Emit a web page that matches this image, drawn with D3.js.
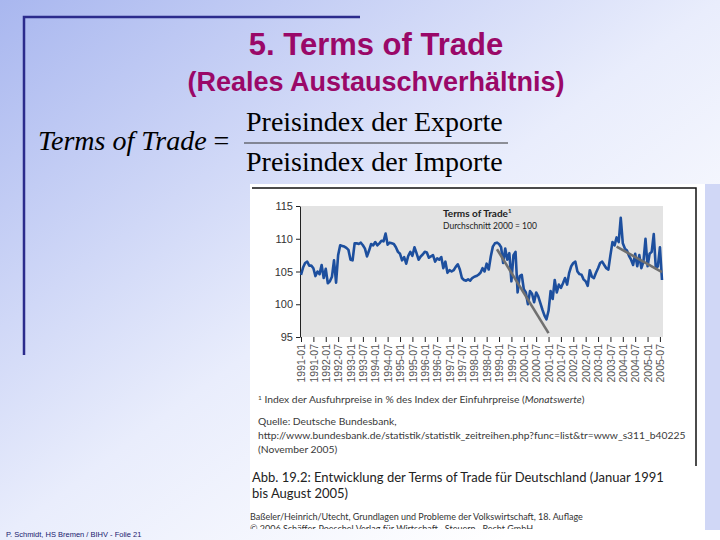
<!DOCTYPE html>
<html>
<head>
<meta charset="utf-8">
<script src="https://cdn.jsdelivr.net/npm/d3@7"></script>
<style>
  body { margin: 0; }
  svg { display: block; }
</style>
</head>
<body>
<div id="display"></div>
<script>
// monthly terms of trade, index 2000 = 100
const tot1991 = [104.5, 105.6, 106.3, 106.5, 105.9, 105.9, 105.5, 104.3, 105.0, 104.6, 106.0, 104.0]
const tot1992 = [105.4, 103.2, 103.5, 104.2, 106.7, 103.3, 107.5, 109.0, 108.9, 108.8, 108.6, 108.3]
const tot1993 = [106.8, 106.7, 109.3, 109.3, 109.2, 109.4, 109.0, 108.5, 107.3, 108.2, 109.2, 109.0]
const tot1994 = [109.5, 109.0, 109.3, 109.7, 109.6, 110.8, 109.1, 109.4, 109.3, 109.2, 108.7, 108.0]
const tot1995 = [107.7, 106.7, 107.2, 106.2, 107.4, 108.0, 107.4, 108.7, 107.8, 106.8, 107.3, 107.6]
const tot1996 = [108.0, 107.9, 107.1, 107.3, 107.5, 106.5, 107.0, 106.8, 107.2, 105.5, 106.5, 104.8]
const tot1997 = [105.2, 105.0, 105.2, 105.7, 106.1, 105.3, 104.0, 103.7, 103.6, 103.8, 103.6, 104.0]
const tot1998 = [104.2, 104.3, 104.5, 104.8, 105.5, 105.0, 106.2, 105.3, 107.3, 108.8, 109.3, 109.4]
const tot1999 = [109.2, 108.7, 106.3, 108.5, 106.8, 107.8, 103.5, 107.5, 108.0, 101.8, 104.3, 104.5]
const tot2000 = [102.3, 101.8, 100.0, 102.0, 101.6, 100.3, 101.8, 101.2, 100.2, 99.2, 98.3, 97.7]
const tot2001 = [99.0, 102.0, 100.8, 103.7, 101.8, 103.0, 102.5, 103.2, 104.0, 103.0, 104.8, 105.8]
const tot2002 = [106.3, 106.5, 105.0, 104.6, 104.5, 103.8, 103.5, 102.8, 105.2, 104.2, 104.0, 104.8]
const tot2003 = [105.5, 106.3, 106.5, 106.0, 105.5, 105.3, 107.5, 109.5, 109.0, 110.2, 109.5, 113.2]
const tot2004 = [109.3, 108.5, 108.2, 107.4, 106.8, 106.0, 107.7, 105.8, 107.5, 105.5, 106.5, 110.0]
const tot2005 = [105.8, 107.7, 108.0, 110.7, 105.5, 105.8, 108.7, 103.7]

// drawn trend segments: [month index, value]
const trendDown = [[95, 108.4], [120, 95.6]]
const trendLate = [[153, 108.8], [175, 104.9]]

const yTicks = [95, 100, 105, 110, 115]
const xTickLabels = ["1991-01", "1991-07", "1992-01", "1992-07", "1993-01", "1993-07",
    "1994-01", "1994-07", "1995-01", "1995-07", "1996-01", "1996-07", "1997-01", "1997-07",
    "1998-01", "1998-07", "1999-01", "1999-07", "2000-01", "2000-07", "2001-01", "2001-07",
    "2002-01", "2002-07", "2003-01", "2003-07", "2004-01", "2004-07", "2005-01", "2005-07"]

const notes = [
    "Quelle: Deutsche Bundesbank,",
    "http://www.bundesbank.de/statistik/statistik_zeitreihen.php?func=list&tr=www_s311_b40225",
    "(November 2005)"
]
const caption = ["Abb. 19.2: Entwicklung der Terms of Trade für Deutschland (Januar 1991", "bis August 2005)"]
const credits = ["Baßeler/Heinrich/Utecht, Grundlagen und Probleme der Volkswirtschaft, 18. Auflage",
    "© 2006 Schäffer-Poeschel Verlag für Wirtschaft · Steuern · Recht GmbH"]

const tot = [].concat(tot1991, tot1992, tot1993, tot1994, tot1995, tot1996, tot1997,
    tot1998, tot1999, tot2000, tot2001, tot2002, tot2003, tot2004, tot2005)

const svg = d3.select('#display').append('svg')
    .attr('width', 720)
    .attr('height', 540)

const defs = svg.append('defs')
const grad = defs.append('linearGradient')
    .attr('id', 'bg')
    .attr('x1', 0).attr('y1', 0).attr('x2', 1).attr('y2', 1)
grad.append('stop').attr('offset', 0).attr('stop-color', '#a9b7ef')
grad.append('stop').attr('offset', 0.5).attr('stop-color', '#e9edfc')
grad.append('stop').attr('offset', 0.85).attr('stop-color', '#ffffff')

defs.append('clipPath').attr('id', 'imgclip')
    .append('rect')
    .attr('x', 250).attr('y', 184).attr('width', 455).attr('height', 345)

svg.append('rect')
    .attr('width', 720).attr('height', 540)
    .attr('fill', 'url(#bg)')

// slide frame
svg.append('path')
    .attr('d', 'M24,355 V17 H360')
    .attr('fill', 'none')
    .attr('stroke', '#2b2b8c')
    .attr('stroke-width', 2.5)

svg.append('text')
    .attr('x', 376).attr('y', 55)
    .attr('text-anchor', 'middle')
    .style('font-family', 'Liberation Sans, Arial, sans-serif')
    .style('font-weight', 'bold')
    .style('font-size', '31px')
    .attr('fill', '#9a0868')
    .text('5. Terms of Trade')

svg.append('text')
    .attr('x', 376).attr('y', 91)
    .attr('text-anchor', 'middle')
    .style('font-family', 'Liberation Sans, Arial, sans-serif')
    .style('font-weight', 'bold')
    .style('font-size', '27px')
    .attr('fill', '#9a0868')
    .text('(Reales Austauschverhältnis)')

// formula
const serif = 'Liberation Serif, Times New Roman, serif'
const lhs = svg.append('text')
    .attr('x', 38).attr('y', 150)
    .style('font-family', serif)
    .style('font-size', '28px')
    .attr('fill', '#000')
lhs.append('tspan').style('font-style', 'italic').text('Terms of Trade')
lhs.append('tspan').text(' =')

svg.append('text')
    .attr('x', 246).attr('y', 131)
    .style('font-family', serif)
    .style('font-size', '28px')
    .text('Preisindex der Exporte')
svg.append('line')
    .attr('x1', 244).attr('x2', 508)
    .attr('y1', 143).attr('y2', 143)
    .attr('stroke', '#333').attr('stroke-width', 1.2)
svg.append('text')
    .attr('x', 246).attr('y', 171)
    .style('font-family', serif)
    .style('font-size', '28px')
    .text('Preisindex der Importe')

// embedded figure
svg.append('rect')
    .attr('x', 705).attr('y', 184).attr('width', 15).attr('height', 346)
    .attr('fill', '#d0d7f6')
const fig = svg.append('g').attr('clip-path', 'url(#imgclip)')
fig.append('rect')
    .attr('x', 250).attr('y', 184).attr('width', 455).attr('height', 346)
    .attr('fill', '#fff')
fig.append('path')
    .attr('d', 'M252,188 H696 V466')
    .attr('fill', 'none')
    .attr('stroke', '#111')
    .attr('stroke-width', 1.5)

const xScale = d3.scaleLinear()
    .domain([0, 175])
    .range([301, 662])
const yScale = d3.scaleLinear()
    .domain([95, 115])
    .range([337, 206])

fig.append('rect')
    .attr('x', xScale(0)).attr('y', yScale(115))
    .attr('width', xScale(175) - xScale(0) + 1)
    .attr('height', yScale(95) - yScale(115))
    .attr('fill', '#e3e3e3')

const yAxis = fig.append('g')
    .attr('transform', 'translate(' + (xScale(0) - 1) + ',0)')
    .call(d3.axisLeft(yScale).tickValues(yTicks).tickSize(4).tickSizeOuter(0))
yAxis.select('.domain').attr('stroke', '#222')
yAxis.selectAll('.tick line').attr('stroke', '#222')
yAxis.selectAll('text')
    .style('font-family', 'Liberation Sans, Arial, sans-serif')
    .style('font-size', '11px')
    .attr('fill', '#333')

const xAxis = fig.append('g')
    .attr('transform', 'translate(0,' + yScale(95) + ')')
    .call(d3.axisBottom(xScale)
        .tickValues(xTickLabels.map((d, i) => i * 6))
        .tickFormat((d, i) => xTickLabels[i])
        .tickSize(5)
        .tickSizeOuter(0))
xAxis.select('.domain').remove()
xAxis.selectAll('.tick line').attr('stroke', '#222')
xAxis.selectAll('text')
    .attr('transform', 'rotate(-90)')
    .attr('x', -7)
    .attr('y', 0)
    .attr('dy', '0.35em')
    .style('text-anchor', 'end')
    .style('font-family', 'Liberation Sans, Arial, sans-serif')
    .style('font-size', '10.5px')
    .attr('fill', '#555')

const line = d3.line()
    .x((d, i) => xScale(i))
    .y(d => yScale(d))
    .curve(d3.curveLinear)

fig.append('path')
    .datum(tot)
    .attr('d', line)
    .attr('fill', 'none')
    .attr('stroke', '#1d4f9e')
    .attr('stroke-width', 2.6)
    .attr('stroke-linejoin', 'round')

const trendLine = d3.line()
    .x(d => xScale(d[0]))
    .y(d => yScale(d[1]))
;[trendDown, trendLate].forEach(seg => {
    fig.append('path')
        .datum(seg)
        .attr('d', trendLine)
        .attr('fill', 'none')
        .attr('stroke', '#707070')
        .attr('stroke-width', 2.6)
})

const inTitle = fig.append('text')
    .attr('x', 443).attr('y', 217)
    .style('font-family', 'Lato, Liberation Sans, sans-serif')
    .style('font-weight', 'bold')
    .style('font-size', '10px')
    .attr('fill', '#222')
inTitle.append('tspan').text('Terms of Trade')
inTitle.append('tspan').attr('dy', -4).style('font-size', '6px').text('1')
fig.append('text')
    .attr('x', 443).attr('y', 229)
    .style('font-family', 'Lato, Liberation Sans, sans-serif')
    .style('font-size', '8.5px')
    .attr('fill', '#222')
    .text('Durchschnitt 2000 = 100')

// footnote, source, caption
const fn = fig.append('text')
    .attr('x', 258).attr('y', 403)
    .style('font-family', 'Lato, Liberation Sans, sans-serif')
    .style('font-size', '10.3px')
    .attr('fill', '#3a3a3a')
fn.append('tspan').attr('dy', -3).style('font-size', '6.5px').text('1')
fn.append('tspan').attr('dy', 3).text('  Index der Ausfuhrpreise in % des Index der Einfuhrpreise (')
fn.append('tspan').style('font-style', 'italic').text('Monatswerte')
fn.append('tspan').text(')')

fig.selectAll('.note').data(notes)
    .enter()
    .append('text')
    .attr('class', 'note')
    .attr('x', 258)
    .attr('y', (d, i) => [425, 439, 453][i])
    .style('font-family', 'Lato, Liberation Sans, sans-serif')
    .style('font-size', '10.3px')
    .attr('fill', '#3a3a3a')
    .text(d => d)

fig.selectAll('.caption').data(caption)
    .enter()
    .append('text')
    .attr('class', 'caption')
    .attr('x', 252)
    .attr('y', (d, i) => 482 + i * 16)
    .style('font-family', 'Lato, Liberation Sans, sans-serif')
    .style('font-size', '13px')
    .attr('fill', '#222')
    .text(d => d)

fig.selectAll('.credit').data(credits)
    .enter()
    .append('text')
    .attr('class', 'credit')
    .attr('x', 250)
    .attr('y', (d, i) => 520 + i * 12)
    .style('font-family', 'Lato, Liberation Sans, sans-serif')
    .style('font-size', '9px')
    .attr('fill', '#333')
    .text(d => d)

svg.append('text')
    .attr('x', 6).attr('y', 537)
    .style('font-family', 'Liberation Sans, Arial, sans-serif')
    .style('font-size', '7.5px')
    .attr('fill', '#1a1a6e')
    .text('P. Schmidt, HS Bremen / BIHV - Folie 21')
</script>
</body>
</html>
